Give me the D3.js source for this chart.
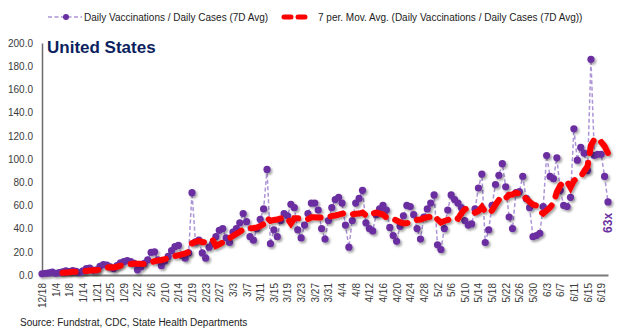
<!DOCTYPE html>
<html>
<head>
<meta charset="utf-8">
<script src="https://cdn.jsdelivr.net/npm/d3@7"></script>
<style>
  html, body { margin: 0; padding: 0; background: #fff; }
  svg { display: block; font-family: "Liberation Sans", Arial, sans-serif; }
</style>
</head>
<body>
<svg id="chart" width="624" height="336"></svg>
<script>
// Category labels shown on the x axis (one every 4th observation)
const tickLabels = ["12/18","1/4","1/8","1/14","1/21","1/25","1/29","2/2","2/6","2/10","2/14",
  "2/19","2/23","2/27","3/3","3/7","3/11","3/15","3/19","3/23","3/27","3/31","4/4","4/8",
  "4/12","4/16","4/20","4/24","4/28","5/2","5/6","5/10","5/14","5/18","5/22","5/26","5/30",
  "6/3","6/7","6/11","6/15","6/19"];

// Daily Vaccinations / Daily Cases (7D Avg), one value per observation
const vaccToCases = [
  1.0, 1.5, 1.8, 2.5, 1.5, 2.0, 2.8, 3.5, 3.0, 3.8, 3.2, 2.0, 3.5, 5.5, 6.0, 4.0,
  4.5, 7.5, 9.0, 8.5, 7.0, 5.5, 8.0, 10.5, 11.5, 12.5, 11.5, 10.0, 4.5, 7.0, 10.0, 13.0,
  19.5, 20.0, 13.0, 8.0, 12.0, 16.0, 21.0, 24.5, 25.5, 17.0, 14.5, 19.0, 71.0, 28.5, 30.0, 19.0,
  14.5, 24.0, 27.0, 33.0, 38.5, 40.0, 32.0, 28.0, 37.0, 40.0, 45.0, 53.0, 46.0, 33.0, 30.0, 40.0,
  48.0, 57.0, 91.0, 27.0, 39.0, 33.0, 47.0, 53.0, 51.0, 61.0, 58.0, 39.0, 32.0, 43.0, 53.0, 62.0,
  62.0, 56.0, 40.0, 31.0, 47.0, 58.0, 65.0, 67.0, 62.0, 43.0, 24.0, 47.0, 62.0, 66.0, 73.0, 45.0,
  40.0, 38.0, 52.0, 57.0, 60.0, 56.0, 41.0, 34.0, 29.0, 42.0, 51.0, 60.0, 59.0, 52.0, 40.0, 31.0,
  50.0, 57.0, 62.0, 69.0, 26.0, 22.0, 40.0, 56.0, 69.0, 65.0, 62.0, 58.0, 47.0, 43.0, 44.0, 57.0,
  75.0, 87.0, 28.0, 39.0, 60.0, 78.0, 86.0, 96.0, 76.0, 50.0, 40.0, 71.0, 72.0, 85.0, 66.0, 58.0,
  33.0, 34.0, 36.0, 59.0, 103.0, 85.0, 83.0, 101.0, 73.0, 60.0, 59.0, 67.0, 126.0, 99.0, 110.0, 105.0,
  90.0, 186.0, 103.0, 104.0, 104.0, 85.0, 63.0
];

const yTicks = [0, 20, 40, 60, 80, 100, 120, 140, 160, 180, 200];
const lastLabel = "63x";
const maPeriod = 7;

const svg = d3.select("#chart");

// Trailing 7-period moving average
const movingAvg = vaccToCases.map((v, i) =>
  i < maPeriod - 1 ? null : d3.mean(vaccToCases.slice(i - maPeriod + 1, i + 1)));

const x = d3.scaleLinear().domain([0, vaccToCases.length - 1]).range([42, 608]);
const y = d3.scaleLinear().domain([0, 200]).range([275, 43]);

// Soft drop shadow used by the markers and the trend line
const defs = svg.append("defs");
const f = defs.append("filter").attr("id", "shadow")
  .attr("x", "-50%").attr("y", "-50%").attr("width", "200%").attr("height", "200%");
f.append("feDropShadow").attr("dx", 1.6).attr("dy", 1.8).attr("stdDeviation", 1.1)
  .attr("flood-color", "#000").attr("flood-opacity", 0.38);

// Axes
const yAxis = svg.append("g").attr("transform", "translate(42,0)")
  .call(d3.axisLeft(y).tickValues(yTicks).tickFormat(d3.format(".1f")).tickSize(0).tickPadding(9));
yAxis.select(".domain").attr("stroke", "#6b6b6b").attr("stroke-width", 1.5);
yAxis.selectAll("text").attr("font-size", 10).attr("fill", "#3a3a3a")
  .attr("font-family", "Liberation Sans, Arial, sans-serif");

const xAxis = svg.append("g").attr("transform", "translate(0,275)")
  .call(d3.axisBottom(x)
    .tickValues(d3.range(tickLabels.length).map(i => i * 4))
    .tickFormat(i => tickLabels[i / 4])
    .tickSize(0));
xAxis.select(".domain").attr("stroke", "#7a7a7a").attr("stroke-width", 2);
xAxis.selectAll("text")
  .attr("font-size", 10).attr("fill", "#3a3a3a")
  .attr("font-family", "Liberation Sans, Arial, sans-serif")
  .attr("text-anchor", "end")
  .attr("transform", "rotate(-90)")
  .attr("x", -8).attr("y", 0).attr("dy", "0.35em");

// Daily ratio series: dashed connector + markers
const line = d3.line().x((d, i) => x(i)).y(d => y(d));
svg.append("path").datum(vaccToCases)
  .attr("d", line)
  .attr("fill", "none")
  .attr("stroke", "#ad94d6")
  .attr("stroke-width", 1.5)
  .attr("stroke-dasharray", "4,2.5");

svg.append("g").attr("filter", "url(#shadow)")
  .selectAll("circle").data(vaccToCases).join("circle")
  .attr("cx", (d, i) => x(i)).attr("cy", d => y(d))
  .attr("r", 3.6).attr("fill", "#6a2fa1");

// Moving-average trend line
const maLine = d3.line().defined(d => d !== null).x((d, i) => x(i)).y(d => y(d));
svg.append("path").datum(movingAvg)
  .attr("d", maLine)
  .attr("fill", "none")
  .attr("stroke", "#ff0000")
  .attr("stroke-width", 6)
  .attr("stroke-linecap", "round")
  .attr("stroke-dasharray", "13,10")
  .attr("filter", "url(#shadow)");

// Value label for the latest point
const lastIdx = vaccToCases.length - 1;
svg.append("text")
  .attr("transform", `translate(${x(lastIdx) + 4},${y(vaccToCases[lastIdx]) + 11}) rotate(-90)`)
  .attr("text-anchor", "end")
  .attr("font-size", 12).attr("font-weight", "bold").attr("fill", "#6a2fa1")
  .text(lastLabel);

// Title
svg.append("text").attr("x", 47).attr("y", 53)
  .attr("font-size", 17).attr("font-weight", "bold").attr("fill", "#0c1f5e")
  .text("United States");

// Legend
const lg = svg.append("g").attr("font-size", 10).attr("fill", "#222");
lg.append("line").attr("x1", 48).attr("x2", 82).attr("y1", 17).attr("y2", 17)
  .attr("stroke", "#ad94d6").attr("stroke-width", 1.5).attr("stroke-dasharray", "4,2.5");
lg.append("circle").attr("cx", 66).attr("cy", 17).attr("r", 3).attr("fill", "#6a2fa1");
lg.append("text").attr("x", 84).attr("y", 20.5).text("Daily Vaccinations / Daily Cases (7D Avg)");
lg.append("line").attr("x1", 284).attr("x2", 309).attr("y1", 17).attr("y2", 17)
  .attr("stroke", "#ff0000").attr("stroke-width", 5).attr("stroke-linecap", "round")
  .attr("stroke-dasharray", "7,7");
lg.append("text").attr("x", 318).attr("y", 20.5)
  .text("7 per. Mov. Avg. (Daily Vaccinations / Daily Cases (7D Avg))");

// Source note
svg.append("text").attr("x", 20).attr("y", 326)
  .attr("font-size", 10).attr("fill", "#222")
  .text("Source: Fundstrat, CDC, State Health Departments");
</script>
</body>
</html>
